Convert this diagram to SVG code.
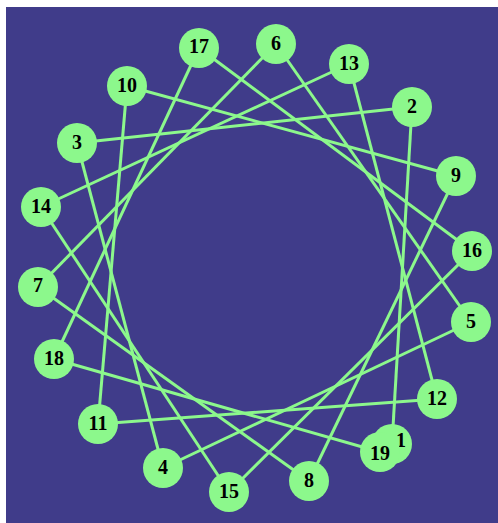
<svg xmlns="http://www.w3.org/2000/svg" width="498" height="523" viewBox="0 0 498 523">
<style>
.e{stroke:#8cf88c;stroke-width:3;fill:none}
.n circle{fill:#8cf88c}
.n text{font-family:"Liberation Serif","Times New Roman",serif;font-weight:bold;font-size:20px;fill:#000;text-anchor:middle}
</style>
<rect x="0" y="0" width="498" height="523" fill="#ffffff"/>
<rect x="6" y="7" width="492" height="516" fill="#403c8a"/>
<g id="edges">
<line class="e" x1="392" y1="444" x2="412" y2="107"/>
<line class="e" x1="412" y1="107" x2="77" y2="143"/>
<line class="e" x1="77" y1="143" x2="163" y2="468"/>
<line class="e" x1="163" y1="468" x2="471" y2="322"/>
<line class="e" x1="471" y1="322" x2="276" y2="44"/>
<line class="e" x1="276" y1="44" x2="38" y2="287"/>
<line class="e" x1="38" y1="287" x2="309" y2="481"/>
<line class="e" x1="309" y1="481" x2="456" y2="176"/>
<line class="e" x1="456" y1="176" x2="127" y2="86"/>
<line class="e" x1="127" y1="86" x2="98" y2="424"/>
<line class="e" x1="98" y1="424" x2="437" y2="399"/>
<line class="e" x1="437" y1="399" x2="349" y2="64"/>
<line class="e" x1="349" y1="64" x2="41" y2="207"/>
<line class="e" x1="41" y1="207" x2="229" y2="492"/>
<line class="e" x1="229" y1="492" x2="472" y2="251"/>
<line class="e" x1="472" y1="251" x2="199" y2="48"/>
<line class="e" x1="199" y1="48" x2="54" y2="359"/>
<line class="e" x1="54" y1="359" x2="380" y2="452"/>
<line class="e" x1="380" y1="452" x2="392" y2="444"/>
</g>
<g id="n17" class="n"><circle cx="199" cy="48" r="20"/><text x="199" y="53">17</text></g>
<g id="n6" class="n"><circle cx="276" cy="44" r="20"/><text x="276" y="50">6</text></g>
<g id="n13" class="n"><circle cx="349" cy="64" r="20"/><text x="349" y="70">13</text></g>
<g id="n2" class="n"><circle cx="412" cy="107" r="20"/><text x="412" y="113">2</text></g>
<g id="n9" class="n"><circle cx="456" cy="176" r="20"/><text x="456" y="182">9</text></g>
<g id="n16" class="n"><circle cx="472" cy="251" r="20"/><text x="472" y="257">16</text></g>
<g id="n5" class="n"><circle cx="471" cy="322" r="20"/><text x="471" y="328">5</text></g>
<g id="n12" class="n"><circle cx="437" cy="399" r="20"/><text x="437" y="405">12</text></g>
<g id="n1" class="n"><circle cx="392" cy="444" r="20"/><text x="401" y="447">1</text></g>
<g id="n19" class="n"><circle cx="380" cy="452" r="20"/><text x="380" y="460">19</text></g>
<g id="n8" class="n"><circle cx="309" cy="481" r="20"/><text x="309" y="487">8</text></g>
<g id="n15" class="n"><circle cx="229" cy="492" r="20"/><text x="229" y="498">15</text></g>
<g id="n4" class="n"><circle cx="163" cy="468" r="20"/><text x="163" y="474">4</text></g>
<g id="n11" class="n"><circle cx="98" cy="424" r="20"/><text x="98" y="430">11</text></g>
<g id="n18" class="n"><circle cx="54" cy="359" r="20"/><text x="54" y="365">18</text></g>
<g id="n7" class="n"><circle cx="38" cy="287" r="20"/><text x="38" y="292">7</text></g>
<g id="n14" class="n"><circle cx="41" cy="207" r="20"/><text x="41" y="213">14</text></g>
<g id="n3" class="n"><circle cx="77" cy="143" r="20"/><text x="77" y="149">3</text></g>
<g id="n10" class="n"><circle cx="127" cy="86" r="20"/><text x="127" y="92">10</text></g>
</svg>
